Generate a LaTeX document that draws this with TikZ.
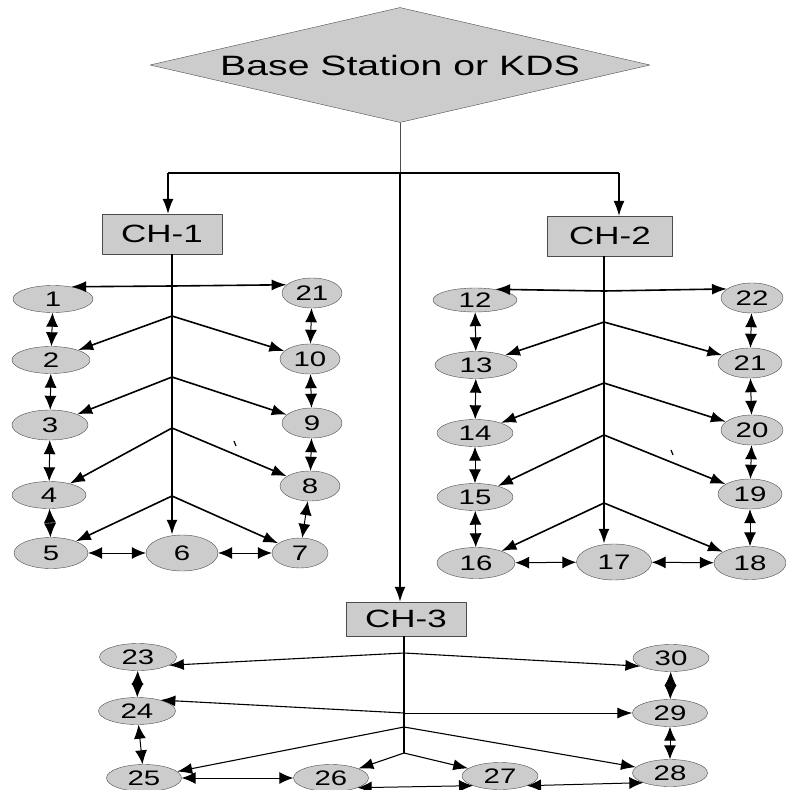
\documentclass[tikz,border=0pt]{standalone}
\usepackage{fontspec}
\setmainfont{Liberation Sans}[FakeStretch=1.4]
\usetikzlibrary{shapes.geometric,arrows.meta}
\tikzset{
  sensor/.style  = {ellipse, draw=black!70, fill=black!20, inner sep=0pt,
                    minimum width=76pt, minimum height=27pt,
                    font=\fontsize{21}{23}\selectfont},
  rsensor/.style = {sensor, minimum width=62pt, minimum height=30pt},
  head/.style    = {rectangle, draw=black!70, fill=black!20, inner sep=0pt,
                    minimum width=120pt, minimum height=40pt,
                    font=\fontsize{25}{28}\selectfont},
  link/.style    = {-{Latex[length=15pt,width=11pt]}, line width=1.6pt},
  linkc/.style   = {-{Latex[length=15pt,width=11pt]}, line width=1.1pt},
  dlink/.style   = {{Latex[length=14pt,width=12pt]}-{Latex[length=14pt,width=12pt]}, line width=1pt},
}
\begin{document}
\begin{tikzpicture}[x=1pt, y=-1pt, line join=round]
\useasboundingbox (0,0) rectangle (785,790);

\node [diamond, aspect=4.35, draw=black!70, fill=black!20, inner sep=0pt,
       minimum width=500pt, minimum height=115pt,
       font=\fontsize{28}{32}\selectfont] (bs) at (400,65) {Base Station or KDS};

\node [head] (ch1) at (162,234) {CH-1};
\node [head, minimum width=125pt] (ch2) at (610,236) {CH-2};
\node [head, minimum height=34pt] (ch3) at (406,619) {CH-3};

\coordinate (split)  at (400,173);
\coordinate (splitL) at (168,173);
\coordinate (splitR) at (619,173);

\node [sensor, minimum width=80pt]                    (n1)  at ( 53,299) {1};
\node [sensor, minimum width=78pt]                    (n2)  at ( 51,360) {2};
\node [sensor, minimum height=30pt]                   (n3)  at ( 50,425) {3};
\node [sensor, minimum width=74pt]                    (n4)  at ( 49,495) {4};
\node [sensor, minimum width=74pt, minimum height=31pt] (n5)  at ( 51,553) {5};
\node [sensor, minimum width=72pt, minimum height=36pt] (n6)  at (182,553) {6};
\node [rsensor, minimum width=56pt]                   (n7)  at (300,553) {7};
\node [rsensor, minimum width=60pt]                   (n8)  at (310,486) {8};
\node [rsensor, minimum width=60pt]                   (n9)  at (312,423) {9};
\node [rsensor, minimum width=60pt]                   (n10) at (310,359) {10};
\node [rsensor, minimum width=60pt]                   (n21) at (312,293) {21};

\node [sensor, minimum width=84pt, minimum height=24pt] (n12)  at (475,300) {12};
\node [sensor, minimum width=82pt]                    (n13)  at (476,365) {13};
\node [sensor]                                        (n14)  at (475,433) {14};
\node [sensor]                                        (n15)  at (475,497) {15};
\node [sensor, minimum width=78pt, minimum height=31pt] (n16)  at (476,563) {16};
\node [sensor, minimum width=75pt, minimum height=36pt] (n17)  at (614,562) {17};
\node [rsensor, minimum width=72pt, minimum height=33pt] (n18) at (750,563) {18};
\node [rsensor, minimum width=64pt]                   (n19)  at (750,494) {19};
\node [rsensor]                                       (n20)  at (752,430) {20};
\node [rsensor, minimum width=64pt]                   (n21b) at (750,363) {21};
\node [rsensor]                                       (n22)  at (752,298) {22};

\node [sensor, minimum width=77pt] (n23) at (138,657) {23};
\node [sensor, minimum width=77pt] (n24) at (137,711) {24};
\node [sensor, minimum width=75pt] (n25) at (144,778) {25};
\node [sensor, minimum width=75pt] (n26) at (331,778) {26};
\node [sensor]                     (n27) at (500,776) {27};
\node [sensor, minimum width=75pt] (n28) at (670,773) {28};
\node [sensor, minimum width=75pt] (n29) at (670,713) {29};
\node [sensor]                     (n30) at (671,658) {30};

\coordinate (j11) at (172,286);
\coordinate (j12) at (172,316);
\coordinate (j13) at (172,377);
\coordinate (j14) at (172,428);
\coordinate (j15) at (172,496);

\coordinate (j21) at (604,291);
\coordinate (j22) at (604,322);
\coordinate (j23) at (604,383);
\coordinate (j24) at (604,435);
\coordinate (j25) at (604,503);

\coordinate (j31) at (404,653);
\coordinate (j32) at (404,713);
\coordinate (j33) at (404,727);
\coordinate (j34) at (404,753);

\draw [line width=0.8pt, black!70] (bs.south) -- (split);
\draw [line width=1.4pt] (splitL) -- (splitR);
\draw [link, line width=1.2pt] (splitL) -- (splitL |- ch1.north);
\draw [link, line width=1.2pt] (splitR) -- (splitR |- ch2.north);
\draw [link, line width=1.6pt] (split) -- (split |- ch3.north);

\draw [link, line width=2.2pt] (ch1.south -| j11) -- (j15 |- n6.north);
\draw [link] (j11) -- (n1.34);
\draw [link] (j11) -- (n21.162);
\foreach \j/\l/\r in {j12/n2/n10, j13/n3/n9, j14/n4/n8, j15/n5/n7}{
    \draw [link] (\j) -- (\l);
    \draw [link] (\j) -- (\r);
}

\draw [link, line width=2.2pt] (ch2.south -| j21) -- (j25 |- n17.north);
\draw [link] (j21) -- (n12.28);
\draw [link] (j21) -- (n22.160);
\foreach \j/\l/\r in {j22/n13/n21b, j23/n14/n20, j24/n15/n19, j25/n16/n18}{
    \draw [link] (\j) -- (\l);
    \draw [link] (\j) -- (\r);
}

\draw [line width=1.1pt] (ch3.south -| j31) -- (j34);
\draw [linkc] (j31) -- (n23.-15);
\draw [linkc] (j31) -- (n30.195);
\draw [linkc] (j32) -- (n24.25);
\draw [linkc, line width=0.9pt] (j32) -- (n29);
\draw [linkc] (j33) -- (n25);
\draw [linkc] (j33) -- (n28);
\draw [linkc] (j34) -- (n26);
\draw [linkc] (j34) -- (n27);

\foreach \a/\b in {n1/n2, n2/n3, n3/n4, n4/n5, n5/n6, n6/n7,
                   n21/n10, n10/n9, n9/n8, n8/n7,
                   n12/n13, n13/n14, n14/n15, n15/n16, n16/n17, n17/n18,
                   n22/n21b, n21b/n20, n20/n19, n19/n18,
                   n23/n24, n24/n25, n25/n26, n30/n29, n29/n28}
    \draw [dlink] (\a) -- (\b);
\draw [dlink] (n26.south east) -- (n27.south west);
\draw [dlink] (n27.south east) -- (n28.south west);

\draw [line width=1.2pt] (234,441) -- (236,446);
\draw [line width=1.2pt] (671,450) -- (673,455);

\end{tikzpicture}
\end{document}
